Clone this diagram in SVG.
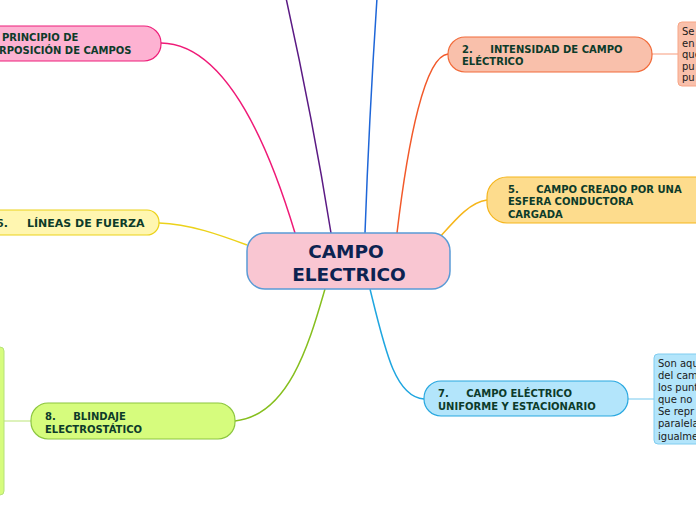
<svg xmlns="http://www.w3.org/2000/svg" width="696" height="520" viewBox="0 0 696 520" xml:space="preserve">
<style>
text{white-space:pre}
.t{font-family:"DejaVu Sans","Verdana",sans-serif;font-weight:bold;font-size:10px;fill:#0d3b2a}
.n{font-family:"DejaVu Sans","Verdana",sans-serif;font-size:10px;fill:#1a1a1a}
.c{font-family:"DejaVu Sans","Verdana",sans-serif;font-weight:bold;font-size:18.5px;fill:#0c2351;text-anchor:middle}
.l{fill:none;stroke-width:1.5}
</style>
<rect width="696" height="520" fill="#ffffff"/>
<g id="connectors">
<path class="l" d="M161,43 Q238,44 295,233" stroke="#ef1a77"/>
<path class="l" d="M286,-2 Q313,120 331,233" stroke="#5b1a84"/>
<path class="l" d="M377,-2 Q369,120 365,233" stroke="#1e66d8"/>
<path class="l" d="M448,54 C425,56 408,140 397,233" stroke="#f2592a"/>
<path class="l" d="M487,200 C470,202 455,220 440,237" stroke="#f6b61a"/>
<path class="l" d="M159,223 C190,224 220,235 247,245" stroke="#ecd21a"/>
<path class="l" d="M235,421 C290,415 310,340 325,289" stroke="#86bf1e"/>
<path class="l" d="M370,289 C385,350 395,397 424,399" stroke="#1fa6e0"/>
<path d="M652,54 L678,54" stroke="#f9ab90" stroke-width="1.2"/>
<path d="M628,399 L654,399" stroke="#8dd3f2" stroke-width="1.2"/>
<path d="M4,421 L31,421" stroke="#c6ea8e" stroke-width="1.2"/>
</g>
<g id="center">
<rect x="247" y="233" width="203" height="56" rx="18" fill="#f9c6d2" stroke="#5a9bd6" stroke-width="1.5"/>
<text class="c" x="346" y="258">CAMPO</text>
<text class="c" x="349" y="281">ELECTRICO</text>
</g>
<g id="node1">
<rect x="-30" y="26" width="191" height="35" rx="17" fill="#fdb2d2" stroke="#ee1f7a" stroke-width="1.2"/>
<text class="t" x="2" y="41">PRINCIPIO DE</text>
<text class="t" x="-1" y="54">RPOSICIÓN DE CAMPOS</text>
</g>
<g id="node2">
<rect x="448" y="37" width="204" height="35" rx="17" fill="#f9c0ab" stroke="#f26b3a" stroke-width="1.2"/>
<text class="t" x="462" y="53">2.     INTENSIDAD DE CAMPO</text>
<text class="t" x="462" y="65">ELÉCTRICO</text>
</g>
<g id="note2">
<rect x="678" y="22" width="40" height="64" rx="4" fill="#f9c0ab" stroke="#f8a586" stroke-width="1"/>
<text class="n" x="682" y="35">Se</text>
<text class="n" x="682" y="47">en</text>
<text class="n" x="682" y="58">que</text>
<text class="n" x="682" y="70">pu</text>
<text class="n" x="682" y="81">pu</text>
</g>
<g id="node5">
<rect x="487" y="177" width="230" height="46" rx="20" fill="#fddc8d" stroke="#f5b51c" stroke-width="1.2"/>
<text class="t" x="508" y="193">5.     CAMPO CREADO POR UNA</text>
<text class="t" x="508" y="205">ESFERA CONDUCTORA</text>
<text class="t" x="508" y="218">CARGADA</text>
</g>
<g id="node6">
<rect x="-30" y="210" width="189" height="25" rx="12" fill="#fff6b0" stroke="#ecd21a" stroke-width="1.2"/>
<text class="t" x="-4" y="227" style="font-size:11px">6.     LÍNEAS DE FUERZA</text>
</g>
<g id="node7">
<rect x="424" y="381" width="204" height="35" rx="17" fill="#b3e5fb" stroke="#29a8e0" stroke-width="1.2"/>
<text class="t" x="438" y="397">7.     CAMPO ELÉCTRICO</text>
<text class="t" x="438" y="410">UNIFORME Y ESTACIONARIO</text>
</g>
<g id="note7">
<rect x="654" y="354" width="60" height="90" rx="4" fill="#b3e5fb" stroke="#80cdf0" stroke-width="1"/>
<text class="n" x="658" y="367">Son aqu</text>
<text class="n" x="658" y="379">del cam</text>
<text class="n" x="658" y="391">los punt</text>
<text class="n" x="658" y="403">que no</text>
<text class="n" x="658" y="415">Se repr</text>
<text class="n" x="658" y="427">paralela</text>
<text class="n" x="658" y="440">igualme</text>
</g>
<g id="node8">
<rect x="31" y="403" width="204" height="36" rx="17" fill="#d6fc7d" stroke="#8cc63f" stroke-width="1.2"/>
<text class="t" x="45" y="420">8.     BLINDAJE</text>
<text class="t" x="45" y="433">ELECTROSTÁTICO</text>
</g>
<g id="note8">
<rect x="-20" y="347" width="24" height="148" rx="4" fill="#d6fc7d" stroke="#b6e27a" stroke-width="1"/>
</g>
</svg>
